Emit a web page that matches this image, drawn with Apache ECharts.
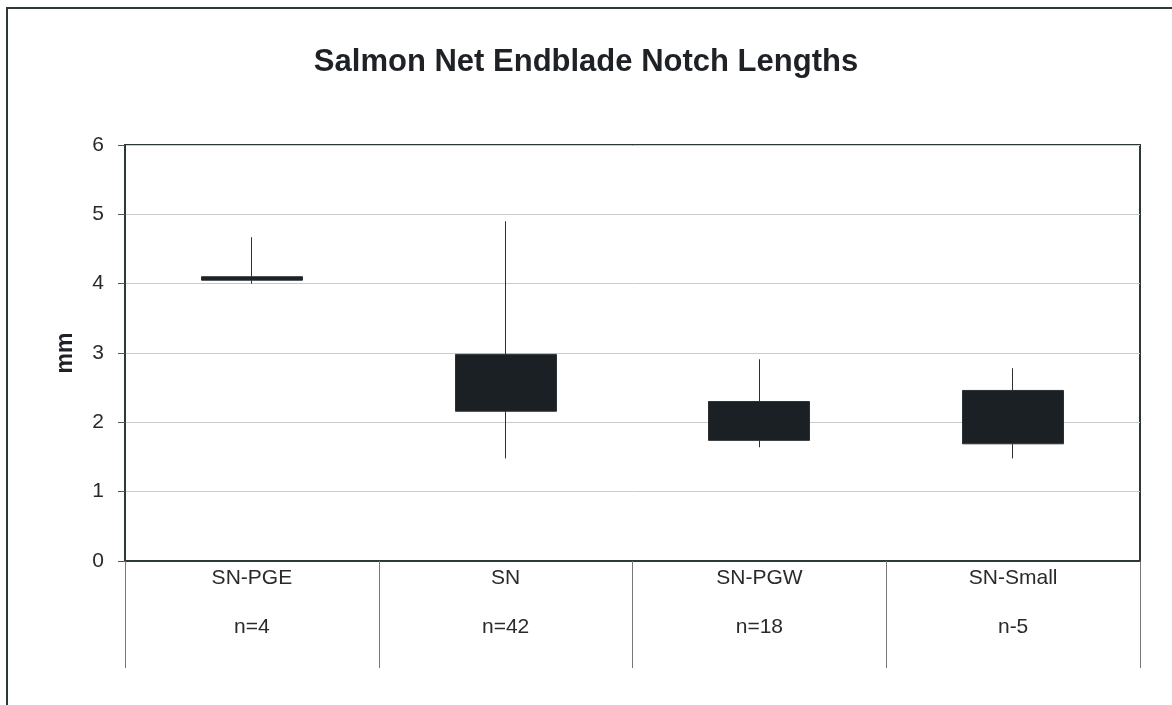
<!DOCTYPE html>
<html>
<head>
<meta charset="utf-8">
<script src="https://cdn.jsdelivr.net/npm/echarts@6/dist/echarts.min.js"></script>
<style>
  html, body { margin: 0; padding: 0; background: #fff; }
  #chart { width: 1172px; height: 705px; }
</style>
</head>
<body>
<div id="chart"></div>
<script>
    // categories and sample sizes
    var categories = ["SN-PGE", "SN", "SN-PGW", "SN-Small"];
    var sampleSizes = ["n=4", "n=42", "n=18", "n-5"];
    // box bottom / top, whisker low / high (mm)
    var boxLow = [4.05, 2.16, 1.74, 1.69];
    var boxHigh = [4.10, 2.98, 2.30, 2.46];
    var whiskerLow = [4.00, 1.48, 1.64, 1.48];
    var whiskerHigh = [4.67, 4.90, 2.91, 2.78];
    var yTicks = [0, 1, 2, 3, 4, 5, 6];

    var boxData = [];
    for (var i = 0; i < categories.length; i++) {
        boxData.push([boxLow[i], boxHigh[i], whiskerLow[i], whiskerHigh[i]]);
    }

    var myChart = echarts.init(document.getElementById('chart'));

    var option = {
        backgroundColor: '#ffffff',
        animation: false,
        title: {
            text: 'Salmon Net Endblade Notch Lengths',
            left: 'center',
            top: 42,
            textStyle: {
                fontFamily: 'Liberation Sans, Arial',
                fontWeight: 'bold',
                fontSize: 31,
                color: '#1e2226'
            }
        },
        graphic: [{
            type: 'rect',
            silent: true,
            shape: { x: 7, y: 8, width: 1180, height: 720 },
            style: { fill: null, stroke: '#2e3838', lineWidth: 2 }
        }],
        grid: {
            left: 125,
            right: 32,
            top: 145,
            bottom: 144,
            show: true,
            borderColor: '#2e3838',
            borderWidth: 2
        },
        xAxis: {
            type: 'category',
            data: categories,
            boundaryGap: true,
            axisLine: { lineStyle: { color: '#2e3838', width: 2 } },
            axisTick: {
                show: true,
                length: 107,
                lineStyle: { color: '#777', width: 1 }
            },
            axisLabel: {
                margin: 5,
                fontFamily: 'Liberation Sans, Arial',
                fontSize: 21,
                color: '#2a2a2a',
                lineHeight: 24.5,
                formatter: function (value, idx) {
                    return value + '\n\n' + sampleSizes[idx];
                }
            },
            splitLine: { show: false }
        },
        yAxis: {
            type: 'value',
            min: yTicks[0],
            max: yTicks[yTicks.length - 1],
            interval: 1,
            name: 'mm',
            nameLocation: 'middle',
            nameGap: 48,
            nameRotate: 90,
            nameTextStyle: {
                fontFamily: 'Liberation Sans, Arial',
                fontWeight: 'bold',
                fontSize: 23,
                color: '#1e2226'
            },
            axisLine: { show: true, lineStyle: { color: '#2e3838', width: 2 } },
            axisTick: { show: true, inside: false, length: 7, lineStyle: { color: '#555' } },
            axisLabel: {
                margin: 21,
                fontFamily: 'Liberation Sans, Arial',
                fontSize: 21,
                color: '#2a2a2a'
            },
            splitLine: { show: true, lineStyle: { color: '#c9cccc', width: 1 } }
        },
        series: [{
            type: 'candlestick',
            data: boxData,
            barWidth: '40%',
            itemStyle: {
                color: '#1b2024',
                color0: '#1b2024',
                borderColor: '#2b3033',
                borderColor0: '#2b3033',
                borderWidth: 1
            }
        }]
    };

    myChart.setOption(option);
</script>
</body>
</html>
